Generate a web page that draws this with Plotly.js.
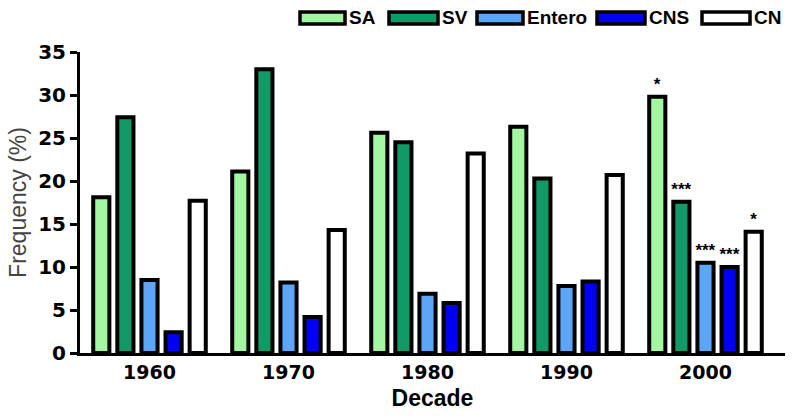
<!DOCTYPE html>
<html><head><meta charset="utf-8">
<script src="https://cdn.plot.ly/plotly-3.0.1.min.js"></script>
<style>body{margin:0;background:#fff}#plot{width:794px;height:419px}</style>
</head><body><div id="plot"></div>
<script>
var decades = ['1960','1970','1980','1990','2000'];
var seriesNames = ['SA','SV','Entero','CNS','CN'];
var SA     = [18.1, 21.1, 25.6, 26.3, 29.8];
var SV     = [27.4, 33.0, 24.5, 20.3, 17.6];
var Entero = [8.5, 8.2, 6.9, 7.8, 10.5];
var CNS    = [2.4, 4.2, 5.8, 8.3, 10.0];
var CN     = [17.7, 14.3, 23.2, 20.7, 14.1];
var sigSA     = ['', '', '', '', '*'];
var sigSV     = ['', '', '', '', '***'];
var sigEntero = ['', '', '', '', '***'];
var sigCNS    = ['', '', '', '', '***'];
var sigCN     = ['', '', '', '', '*'];

var colors = ['#a2f7a0', '#119a68', '#5ba6f7', '#0000f2', '#ffffff'];
var values = [SA, SV, Entero, CNS, CN];
var sigs = [sigSA, sigSV, sigEntero, sigCNS, sigCN];
var BOLD = '"Liberation Sans", Arial, sans-serif';
var WIDE = '"DejaVu Sans", Verdana, sans-serif';

var traces = seriesNames.map(function(n, i){
  return {
    type: 'bar', name: n, x: decades, y: values[i],
    marker: {color: colors[i], line: {color: '#000', width: 4}},
    text: sigs[i], textposition: 'outside', cliponaxis: false, constraintext: 'none',
    textfont: {family: BOLD, size: 17, color: '#000', weight: 'bold'},
    showlegend: false, hoverinfo: 'skip'
  };
});

// custom legend (wide boxes like the reference)
var legendBoxes = [[300,345],[389,438],[477,523],[597,645],[702,750]];
var shapes = [], annotations = [];
var W = 794, H = 419;
legendBoxes.forEach(function(b, i){
  shapes.push({type:'rect', xref:'paper', yref:'paper',
    x0:(b[0]-80)/705, x1:(b[1]-80)/705,
    y0:(353-12)/301, y1:(353-24)/301,
    fillcolor: colors[i], line:{color:'#000', width:3.5}});
  annotations.push({xref:'paper', yref:'paper', x:(b[1]+2-80)/705, y:(353-18)/301,
    xanchor:'left', yanchor:'middle', text: seriesNames[i], showarrow:false,
    font:{family: BOLD, size: 19, color:'#000', weight:'bold'}});
});

var layout = {
  width: W, height: H,
  margin: {l: 80, r: 9, t: 52, b: 66},
  paper_bgcolor: '#fff', plot_bgcolor: '#fff',
  barmode: 'group', bargap: 0.133, bargroupgap: 0.33,
  showlegend: false,
  xaxis: {
    type: 'category', range: [-0.5, 4.572], showline: true, linecolor: '#000', linewidth: 3,
    ticks: '', showgrid: false, zeroline: false,
    tickfont: {family: WIDE, size: 19, color: '#000', weight: 'bold'},
    title: {text: 'Decade', font: {family: BOLD, size: 23, color: '#000', weight: 'bold'}, standoff: 9}
  },
  yaxis: {
    range: [0, 35], dtick: 5, showline: true, linecolor: '#000', linewidth: 3,
    ticks: 'outside', ticklen: 7, tickwidth: 3, tickcolor: '#000',
    showgrid: false, zeroline: false,
    tickfont: {family: WIDE, size: 20, color: '#000', weight: 'bold'},
    title: {text: 'Frequency (%)', font: {family: '"Liberation Sans", Arial, sans-serif', size: 23, color: '#444'}, standoff: 6}
  },
  shapes: shapes, annotations: annotations
};
Plotly.newPlot('plot', traces, layout, {displayModeBar: false, staticPlot: true});
</script></body></html>
